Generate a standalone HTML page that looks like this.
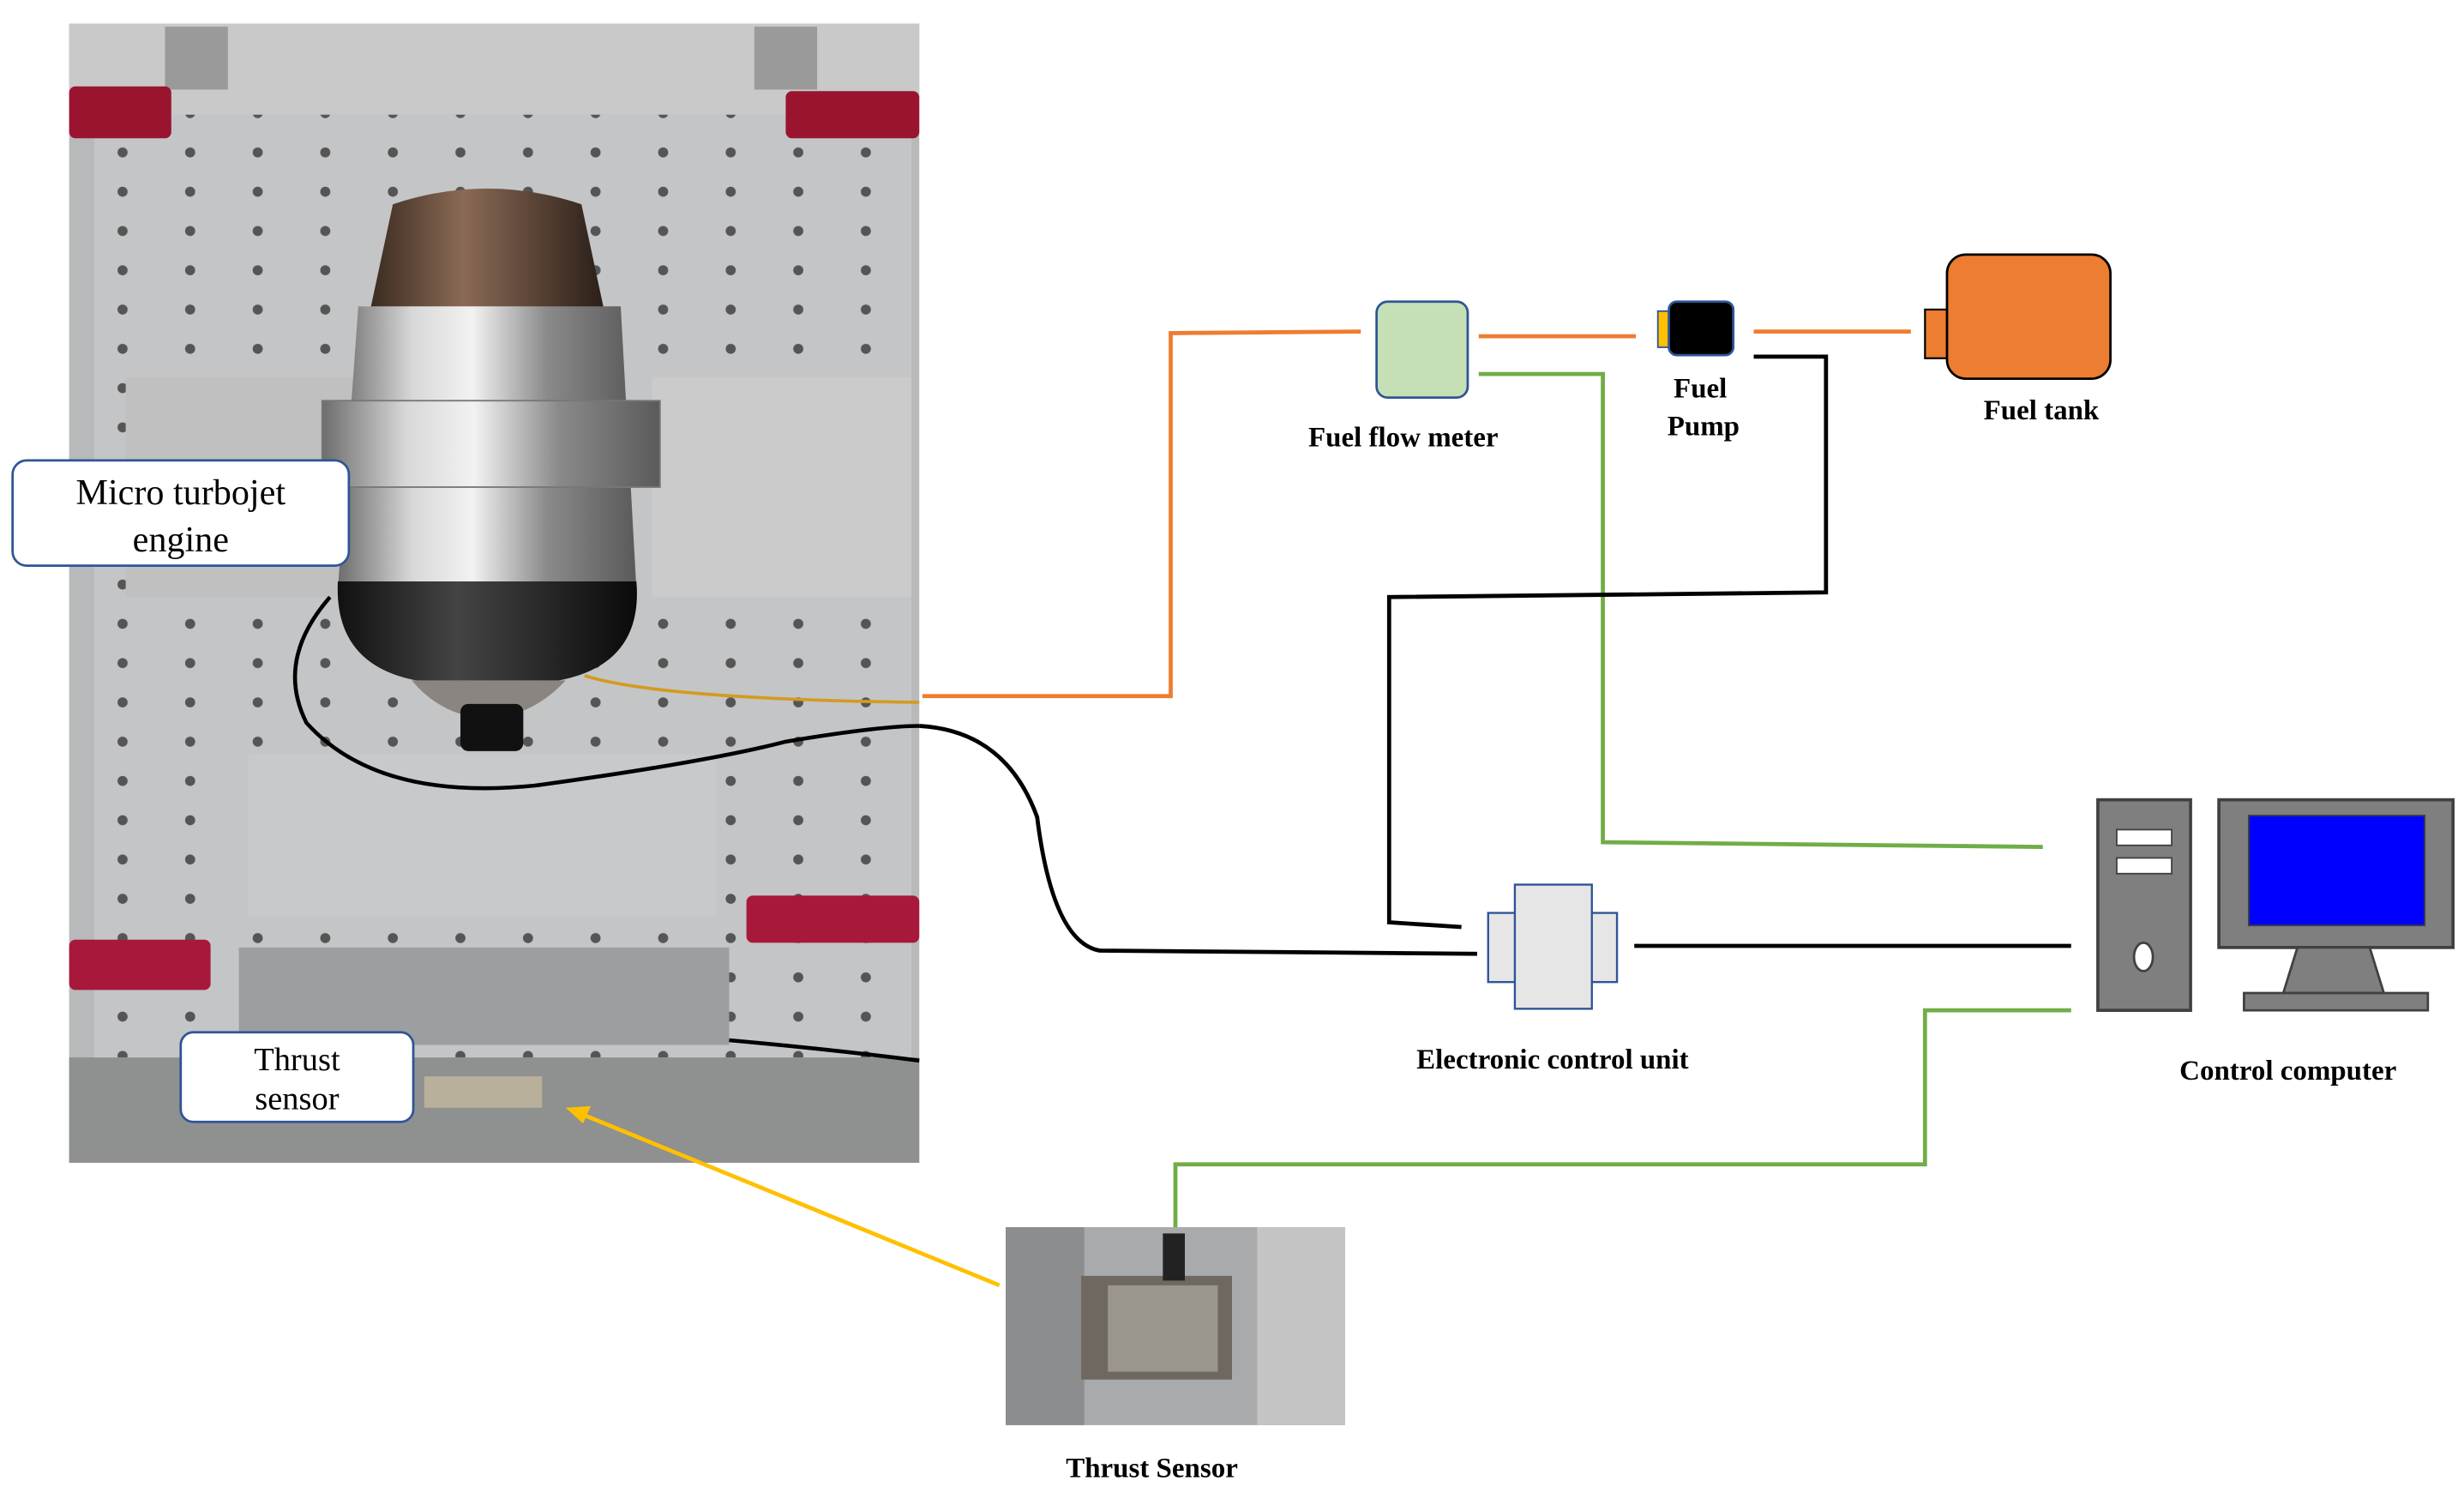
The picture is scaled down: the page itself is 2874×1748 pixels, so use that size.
<!DOCTYPE html>
<html><head><meta charset="utf-8"><style>
html,body{margin:0;padding:0;background:#fff;}
svg{display:block;}
text{font-family:"Liberation Serif",serif;}
.lb{font-weight:bold;font-size:18px;text-anchor:middle;fill:#000;}
.cl{font-size:23px;text-anchor:middle;fill:#000;}
</style></head><body>
<svg width="2874" height="1748" viewBox="0 0 1568 954" preserveAspectRatio="none" xmlns="http://www.w3.org/2000/svg">
<defs>
<pattern id="holes" x="58" y="60" width="43" height="25" patternUnits="userSpaceOnUse">
<circle cx="20" cy="12" r="3.2" fill="#555"/>
</pattern>
<linearGradient id="metal" x1="0" x2="1">
<stop offset="0" stop-color="#6d6d6d"/><stop offset="0.25" stop-color="#d8d8d8"/><stop offset="0.45" stop-color="#f2f2f2"/><stop offset="0.7" stop-color="#8a8a8a"/><stop offset="1" stop-color="#5a5a5a"/>
</linearGradient>
<linearGradient id="bronze" x1="0" x2="1">
<stop offset="0" stop-color="#3a2a20"/><stop offset="0.4" stop-color="#8a6a55"/><stop offset="1" stop-color="#2a1e18"/>
</linearGradient>
<linearGradient id="blk" x1="0" x2="1">
<stop offset="0" stop-color="#111"/><stop offset="0.4" stop-color="#444"/><stop offset="1" stop-color="#0a0a0a"/>
</linearGradient>
</defs>
<rect width="1568" height="954" fill="#fff"/>
<!-- photo -->
<rect x="44" y="15" width="541" height="725" fill="#b8b9bb"/>
<rect x="44" y="15" width="541" height="58" fill="#c9c9c9"/>
<rect x="60" y="73" width="520" height="600" fill="#c4c5c7"/>
<rect x="60" y="73" width="520" height="600" fill="url(#holes)"/>
<rect x="80" y="240" width="160" height="140" fill="#c0c0c0"/>
<rect x="415" y="240" width="165" height="140" fill="#cbcbcb"/>
<rect x="158" y="480" width="298" height="103" fill="#c8c9cb"/>
<rect x="152" y="603" width="312" height="62" fill="#9d9ea0"/>
<rect x="44" y="673" width="541" height="67" fill="#8f9090"/>
<rect x="270" y="685" width="75" height="20" fill="#b8b09a"/>
<rect x="105" y="17" width="40" height="40" fill="#9a9a9a"/><rect x="480" y="17" width="40" height="40" fill="#9a9a9a"/>
<!-- red clamps -->
<rect x="44" y="55" width="65" height="33" rx="4" fill="#9a1430"/>
<rect x="500" y="58" width="85" height="30" rx="4" fill="#9a1430"/>
<rect x="44" y="598" width="90" height="32" rx="4" fill="#a8183a"/>
<rect x="475" y="570" width="110" height="30" rx="4" fill="#a8183a"/>
<!-- engine -->
<path d="M250 130 Q310 110 370 130 L385 200 L235 200 Z" fill="url(#bronze)"/>
<path d="M228 195 L395 195 L405 375 L215 375 Z" fill="url(#metal)"/>
<rect x="205" y="255" width="215" height="55" fill="url(#metal)" stroke="#777"/>
<path d="M215 370 L405 370 Q410 430 340 435 L280 435 Q212 430 215 370Z" fill="url(#blk)"/>
<path d="M262 433 L360 433 Q340 455 310 458 Q280 455 262 433Z" fill="#8a8580"/>
<rect x="293" y="448" width="40" height="30" rx="5" fill="#111"/>
<!-- cables in photo -->
<path d="M210 380 Q175 420 195 460 Q240 510 340 500 Q450 485 500 472 Q560 462 585 462" fill="none" stroke="#000" stroke-width="2.5"/>
<path d="M372 430 Q420 445 585 447" fill="none" stroke="#d49a20" stroke-width="2"/>
<path d="M464 662 Q530 668 585 675" fill="none" stroke="#000" stroke-width="2.5"/>
<!-- callouts -->
<rect x="8" y="293" width="214" height="67" rx="9" fill="#fff" stroke="#2f5597" stroke-width="1.5"/>
<text class="cl" x="115" y="321">Micro turbojet</text>
<text class="cl" x="115" y="351">engine</text>
<rect x="115" y="657" width="148" height="57" rx="8" fill="#fff" stroke="#2f5597" stroke-width="1.5"/>
<text class="cl" x="189" y="681" style="font-size:21px">Thrust</text>
<text class="cl" x="189" y="706" style="font-size:21px">sensor</text>
<!-- thrust sensor photo -->
<rect x="640" y="781" width="216" height="126" fill="#a9aaac"/>
<rect x="640" y="781" width="50" height="126" fill="#8c8d8e"/>
<rect x="800" y="781" width="56" height="126" fill="#c4c4c4"/>
<rect x="688" y="812" width="96" height="66" fill="#6e6860"/>
<rect x="705" y="818" width="70" height="55" fill="#9a958d"/>
<rect x="740" y="785" width="14" height="30" fill="#222"/>
<!-- connectors -->
<g fill="none" stroke-width="2.6">
<polyline points="587,443 745,443 745,212 866,211" stroke="#ed7d31"/>
<polyline points="941,214 1041,214" stroke="#ed7d31"/>
<polyline points="1116,211 1216,211" stroke="#ed7d31"/>
<polyline points="941,238 1020,238 1020,536 1300,539" stroke="#70ad47"/>
<polyline points="748,781 748,741 1225,741 1225,643 1318,643" stroke="#70ad47"/>
<polyline points="1116,227 1162,227 1162,377 884,380 884,587 930,590" stroke="#000"/>
<path d="M585 462 Q640 465 660 520 Q670 600 700 605 L940 607" stroke="#000"/>
<line x1="1040" y1="602" x2="1318" y2="602" stroke="#000"/>
<line x1="636" y1="818" x2="370" y2="709" stroke="#ffc000"/>
</g>
<polygon points="360,705 376,704 371,715" fill="#ffc000"/>
<!-- fuel flow meter -->
<rect x="876" y="192" width="58" height="61" rx="7" fill="#c5e0b4" stroke="#2f5597" stroke-width="1.5"/>
<text class="lb" x="893" y="284">Fuel flow meter</text>
<!-- pump -->
<rect x="1055" y="198" width="9" height="23" fill="#ffc000" stroke="#2f5597"/>
<rect x="1062" y="192" width="41" height="34" rx="5" fill="#000" stroke="#2f5597" stroke-width="1.5"/>
<text class="lb" x="1082" y="253">Fuel</text>
<text class="lb" x="1084" y="277">Pump</text>
<!-- tank -->
<rect x="1225" y="197" width="16" height="31" fill="#ed7d31" stroke="#000" stroke-width="1.2"/>
<rect x="1239" y="162" width="104" height="79" rx="12" fill="#ed7d31" stroke="#000" stroke-width="1.5"/>
<text class="lb" x="1299" y="267">Fuel tank</text>
<!-- ECU -->
<rect x="947" y="581" width="18" height="44" fill="#e7e6e6" stroke="#2f5597" stroke-width="1.3"/>
<rect x="1012" y="581" width="17" height="44" fill="#e7e6e6" stroke="#2f5597" stroke-width="1.3"/>
<rect x="964" y="563" width="49" height="79" fill="#e7e6e6" stroke="#2f5597" stroke-width="1.3"/>
<text class="lb" x="988" y="680">Electronic control unit</text>
<!-- computer -->
<rect x="1335" y="509" width="59" height="134" fill="#7f7f7f" stroke="#404040" stroke-width="2"/>
<rect x="1347" y="528" width="35" height="10" fill="#fff" stroke="#404040"/>
<rect x="1347" y="546" width="35" height="10" fill="#fff" stroke="#404040"/>
<ellipse cx="1364" cy="609" rx="6" ry="9" fill="#fff" stroke="#404040" stroke-width="1.5"/>
<rect x="1412" y="509" width="149" height="94" fill="#7f7f7f" stroke="#404040" stroke-width="2"/>
<rect x="1431" y="519" width="112" height="70" fill="#0000ff" stroke="#404040"/>
<polygon points="1462,603 1508,603 1517,632 1453,632" fill="#7f7f7f" stroke="#404040" stroke-width="1.5"/>
<rect x="1428" y="632" width="117" height="11" fill="#7f7f7f" stroke="#404040" stroke-width="1.5"/>
<text class="lb" x="1456" y="687">Control computer</text>
<text class="lb" x="733" y="940">Thrust Sensor</text>
</svg>
</body></html>
